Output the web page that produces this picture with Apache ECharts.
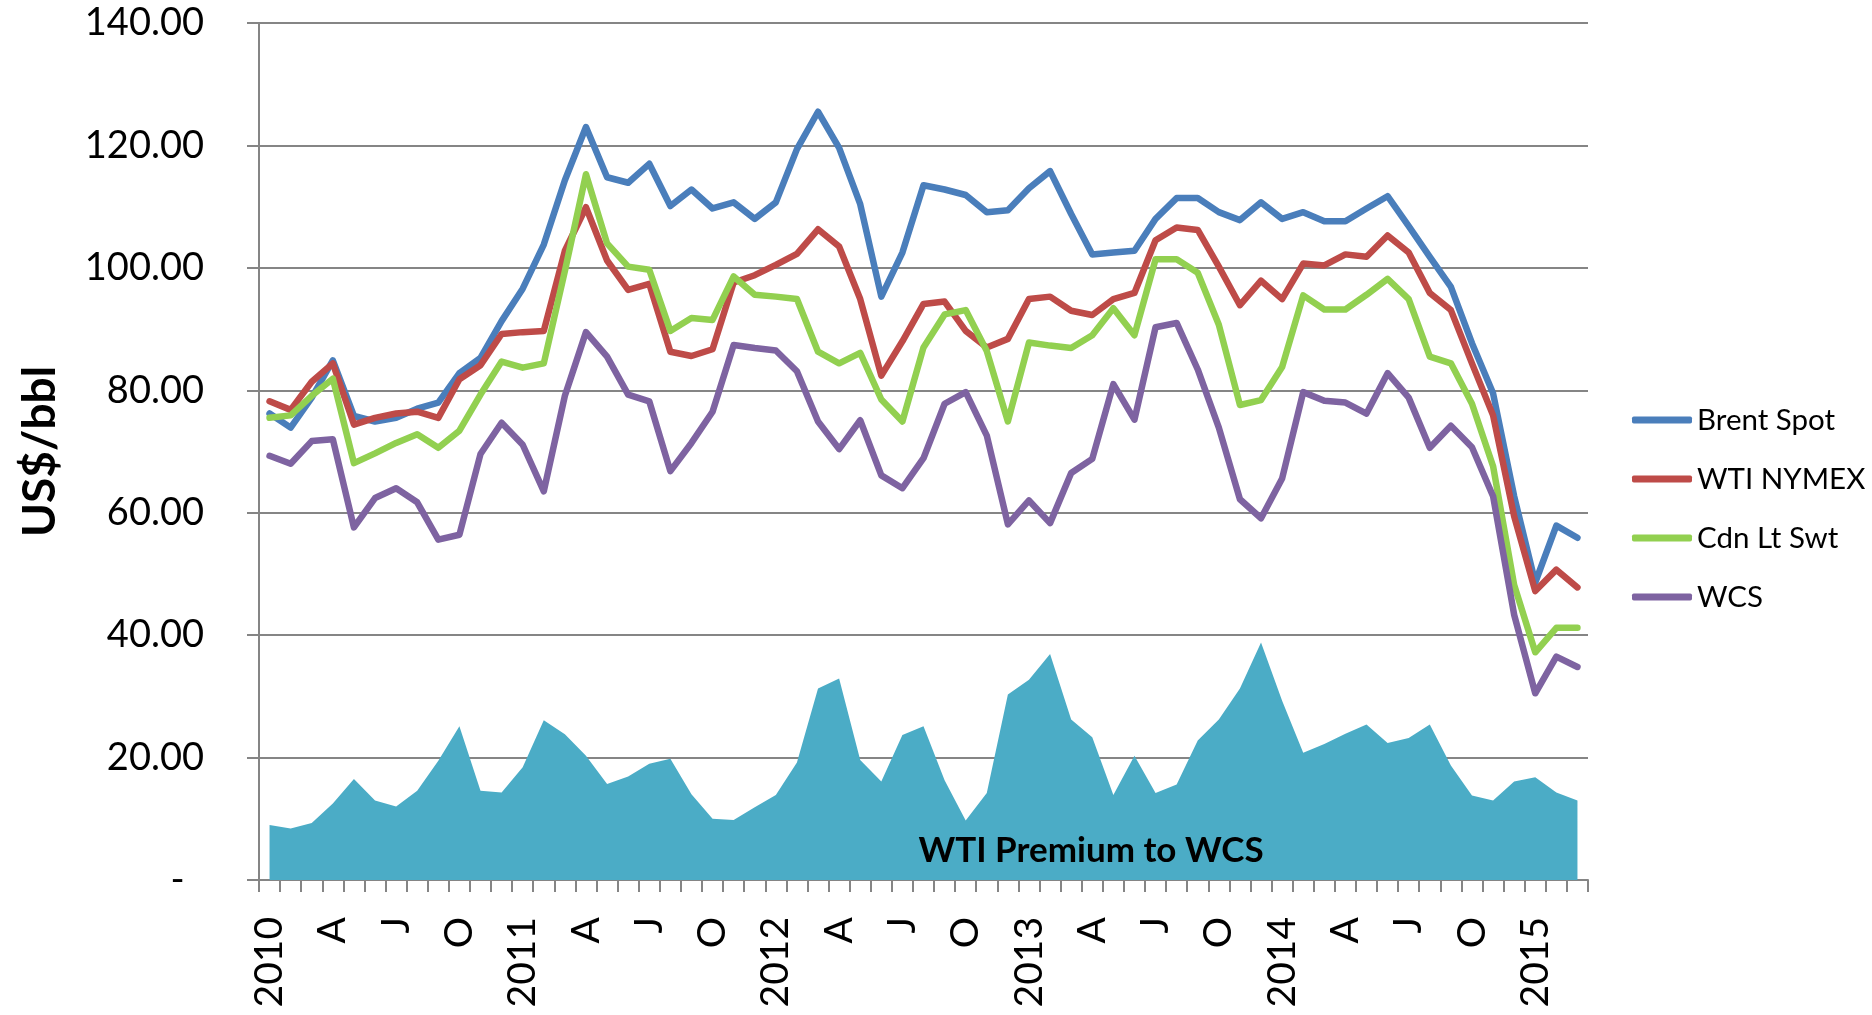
<!DOCTYPE html>
<html>
<head>
<meta charset="utf-8">
<script src="https://cdn.jsdelivr.net/npm/echarts@6/dist/echarts.min.js"></script>
<style>
html,body{margin:0;padding:0;background:#fff;}
#chart{width:1872px;height:1015px;}
</style>
</head>
<body>
<div id="chart"></div>
<script>
const categories = [
  '2010','F','M','A','M','J','J','A','S','O','N','D',
  '2011','F','M','A','M','J','J','A','S','O','N','D',
  '2012','F','M','A','M','J','J','A','S','O','N','D',
  '2013','F','M','A','M','J','J','A','S','O','N','D',
  '2014','F','M','A','M','J','J','A','S','O','N','D',
  '2015','F','M'
];
const yTicks = [0, 20, 40, 60, 80, 100, 120, 140];

const brentSpot = [
  76.2, 73.9, 78.8, 84.9, 75.8, 74.9, 75.5, 77.0, 78.0, 82.8, 85.3, 91.3,
  96.6, 103.8, 114.3, 123.0, 114.8, 113.9, 117.0, 110.1, 112.8, 109.7, 110.7, 108.0,
  110.7, 119.4, 125.5, 119.6, 110.4, 95.3, 102.5, 113.5, 112.8, 111.9, 109.1, 109.4,
  113.0, 115.8, 108.8, 102.2, 102.5, 102.8, 108.0, 111.4, 111.4, 109.1, 107.8, 110.7,
  108.0, 109.1, 107.6, 107.6, 109.7, 111.7, 106.8, 101.8, 96.9, 87.7, 79.5, 62.7,
  48.6, 57.9, 55.9
];
const wtiNymex = [
  78.2, 76.8, 81.4, 84.4, 74.4, 75.5, 76.2, 76.5, 75.5, 81.8, 84.1, 89.2,
  89.5, 89.7, 102.8, 109.9, 101.2, 96.4, 97.4, 86.3, 85.6, 86.7, 97.6, 98.8,
  100.5, 102.3, 106.3, 103.5, 94.9, 82.4, 88.0, 94.1, 94.5, 89.7, 87.0, 88.4,
  94.9, 95.3, 93.0, 92.3, 94.9, 95.9, 104.5, 106.6, 106.2, 100.2, 93.9, 97.9,
  94.9, 100.7, 100.4, 102.2, 101.8, 105.3, 102.5, 95.9, 93.1, 84.4, 75.9, 59.4,
  47.2, 50.7, 47.8
];
const cdnLtSwt = [
  75.5, 75.9, 79.1, 81.9, 68.1, 69.7, 71.4, 72.8, 70.6, 73.4, 79.3, 84.7,
  83.7, 84.4, 99.5, 115.3, 104.0, 100.2, 99.7, 89.7, 91.8, 91.5, 98.6, 95.6,
  95.3, 94.9, 86.3, 84.4, 86.1, 78.5, 74.9, 87.0, 92.4, 93.1, 86.4, 74.9,
  87.8, 87.3, 86.9, 89.0, 93.4, 89.0, 101.4, 101.4, 99.2, 90.7, 77.6, 78.4,
  83.8, 95.5, 93.2, 93.2, 95.6, 98.2, 94.9, 85.5, 84.4, 77.8, 67.6, 48.2,
  37.2, 41.2, 41.2
];
const wcs = [
  69.3, 68.0, 71.7, 72.0, 57.6, 62.4, 64.0, 61.7, 55.6, 56.4, 69.6, 74.7,
  71.1, 63.5, 79.1, 89.5, 85.5, 79.3, 78.2, 66.8, 71.4, 76.5, 87.4, 86.9,
  86.5, 83.1, 74.9, 70.4, 75.1, 66.1, 64.0, 68.9, 77.8, 79.7, 72.6, 58.1,
  62.0, 58.3, 66.5, 68.8, 81.0, 75.2, 90.3, 91.0, 83.4, 73.9, 62.2, 59.1,
  65.6, 79.7, 78.3, 78.0, 76.2, 82.8, 78.8, 70.6, 74.2, 70.7, 62.7, 43.3,
  30.5, 36.5, 34.8
];
const wtiPremium = [
  9.0, 8.4, 9.3, 12.5, 16.5, 13.0, 12.0, 14.6, 19.5, 25.1, 14.6, 14.3,
  18.4, 26.1, 23.8, 20.3, 15.7, 16.9, 19.0, 19.8, 14.0, 10.0, 9.8, 11.9,
  13.9, 19.2, 31.3, 32.9, 19.6, 16.1, 23.7, 25.1, 16.3, 9.7, 14.2, 30.3,
  32.7, 36.9, 26.2, 23.3, 13.9, 20.3, 14.2, 15.6, 22.8, 26.2, 31.3, 38.8,
  29.3, 20.8, 22.2, 23.9, 25.4, 22.4, 23.2, 25.4, 18.7, 13.8, 13.0, 16.1,
  16.8, 14.3, 13.0
];

const FONT = 'Lato, "Open Sans", sans-serif';
const GRAY = '#858585';

function lineSeries(name, data, color) {
  return {
    name: name, type: 'line', data: data, symbol: 'none', smooth: false,
    lineStyle: { color: color, width: 6.5, join: 'round', cap: 'round' },
    itemStyle: { color: color },
    emphasis: { disabled: true }
  };
}

const chart = echarts.init(document.getElementById('chart'), null, { renderer: 'canvas' });
chart.setOption({
  animation: false,
  backgroundColor: '#ffffff',
  grid: { left: 259, right: 284, top: 23, bottom: 135, containLabel: false, outerBoundsMode: 'none' },
  legend: {
    orient: 'vertical', left: 1627, top: 397,
    itemWidth: 60, itemHeight: 7, itemGap: 23, icon: 'roundRect',
    data: ['Brent Spot', 'WTI NYMEX', 'Cdn Lt Swt', 'WCS'],
    textStyle: { fontFamily: FONT, fontSize: 29.5, color: '#000', lineHeight: 36 },
    selectedMode: false
  },
  xAxis: {
    type: 'category', data: categories, boundaryGap: true,
    axisLine: { lineStyle: { color: GRAY, width: 2 } },
    axisTick: { show: true, interval: 0, length: 12, lineStyle: { color: GRAY, width: 2 } },
    axisLabel: { interval: 2, rotate: 90, margin: 37, fontFamily: FONT, fontSize: 39, color: '#000' },
    splitLine: { show: false }
  },
  yAxis: {
    type: 'value', min: yTicks[0], max: yTicks[yTicks.length - 1], interval: yTicks[1] - yTicks[0],
    name: 'US$/bbl', nameLocation: 'middle', nameRotate: 90, nameGap: 196,
    nameTextStyle: { fontFamily: FONT, fontSize: 46, fontWeight: 'bold', color: '#000' },
    axisLine: { show: true, lineStyle: { color: GRAY, width: 2 } },
    axisTick: { show: true, length: 12, lineStyle: { color: GRAY, width: 2 } },
    axisLabel: {
      margin: 55, fontFamily: FONT, fontSize: 38, color: '#000',
      formatter: function (v) { return v === 0 ? '-  ' : v.toFixed(2); }
    },
    splitLine: { show: true, lineStyle: { color: GRAY, width: 2 } }
  },
  graphic: [{
    type: 'text', x: 1091, y: 851, silent: true,
    style: {
      text: 'WTI Premium to WCS', fill: '#000',
      font: 'bold 35px ' + FONT, align: 'center', verticalAlign: 'middle'
    },
    z: 100
  }],
  series: [
    {
      name: 'WTI Premium to WCS', type: 'line', data: wtiPremium, symbol: 'none',
      lineStyle: { width: 0, color: '#4BACC6' },
      areaStyle: { color: '#4BACC6', opacity: 1 },
      itemStyle: { color: '#4BACC6' },
      emphasis: { disabled: true }
    },
    lineSeries('Brent Spot', brentSpot, '#4A7EBB'),
    lineSeries('WTI NYMEX', wtiNymex, '#BE4B48'),
    lineSeries('Cdn Lt Swt', cdnLtSwt, '#92D050'),
    lineSeries('WCS', wcs, '#7E63A1')
  ]
});
</script>
</body>
</html>
